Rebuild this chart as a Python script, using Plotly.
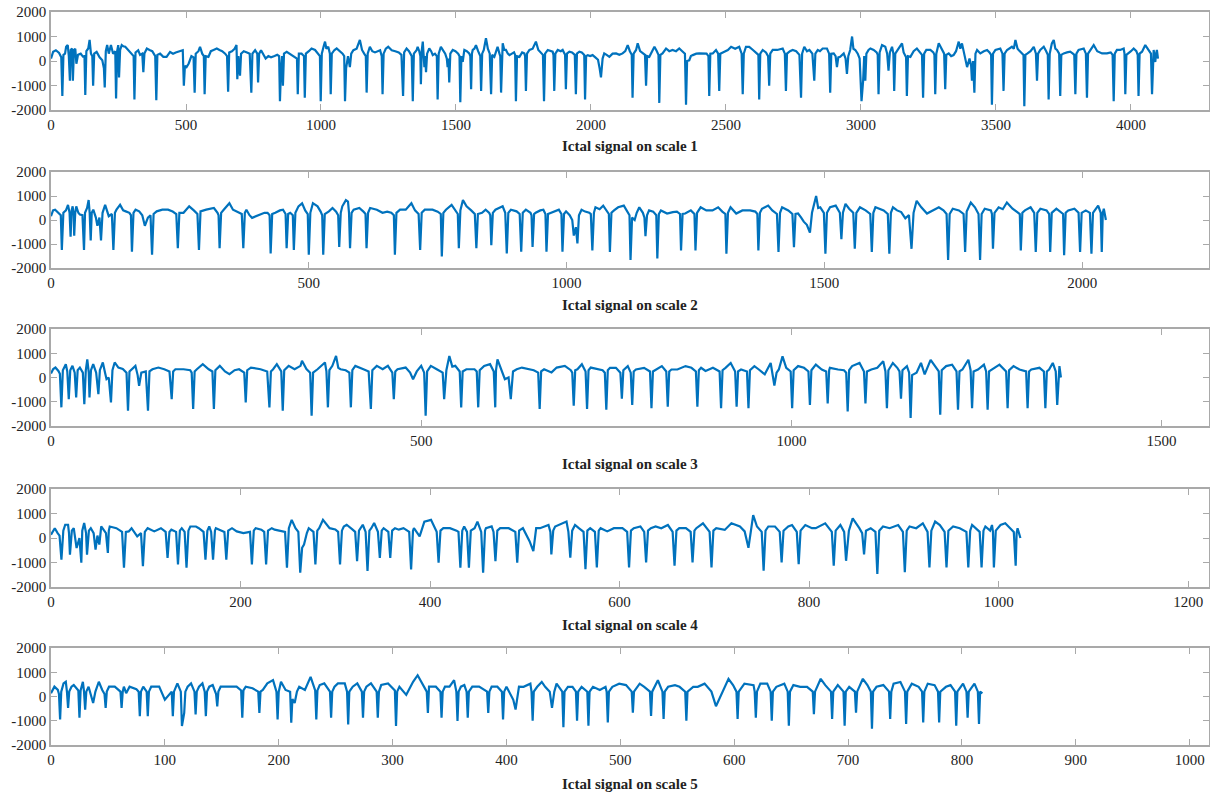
import plotly.graph_objects as go

# ---------------- data: (sample index, amplitude) turning points ----------------
scale1 = [(0,100),(8,380),(18,440),(30,330),(38,150),(42,-1430),(46,250),(52,300),(56,580),(62,650),(66,200),(70,-800),(73,450),(78,510),(81,-800),(85,450),(90,500),(94,-110),(100,250),(110,300),(118,180),(124,200),(127,-1390),(131,400),(138,510),(143,860),(148,300),(153,200),(156,-1010),(160,300),(169,370),(180,150),(190,30),(196,-300),(199,-1080),(203,400),(208,650),(214,300),(222,650),(230,300),(238,400),(241,-1530),(245,400),(249,650),(252,-670),(256,450),(262,650),(268,600),(275,580),(285,450),(296,350),(306,200),(309,-1570),(313,350),(323,440),(330,250),(338,300),(342,-460),(346,300),(355,510),(365,450),(375,400),(386,200),(390,-1600),(394,250),(404,300),(416,170),(428,170),(441,370),(452,300),(462,350),(476,400),(488,440),(492,-1010),(496,-200),(502,-250),(510,-100),(520,200),(528,150),(532,-1290),(536,300),(546,400),(552,580),(560,300),(566,200),(569,-1360),(573,200),(583,170),(592,400),(602,450),(614,510),(624,450),(634,400),(645,300),(652,200),(656,-1250),(660,350),(670,400),(680,500),(687,650),(690,-740),(694,200),(700,-600),(704,300),(714,400),(726,350),(736,300),(742,-1290),(746,300),(756,440),(764,300),(767,-880),(771,300),(778,440),(786,300),(795,100),(805,200),(815,150),(828,200),(838,250),(845,200),(848,-1640),(852,-300),(856,200),(859,-1010),(863,300),(873,370),(884,300),(896,200),(904,170),(911,100),(914,-1360),(918,300),(928,300),(937,200),(940,-1500),(944,300),(955,400),(965,510),(978,450),(990,300),(996,200),(999,-1640),(1003,300),(1010,600),(1015,790),(1020,500),(1027,580),(1033,300),(1036,-1360),(1040,300),(1050,450),(1058,510),(1070,400),(1080,300),(1086,200),(1089,-1640),(1093,-300),(1100,200),(1107,-250),(1112,300),(1120,440),(1132,500),(1144,860),(1152,450),(1160,300),(1166,200),(1169,-1290),(1173,300),(1181,580),(1190,400),(1200,350),(1210,400),(1219,440),(1225,200),(1228,-1360),(1232,300),(1240,500),(1249,580),(1262,440),(1275,400),(1288,350),(1298,250),(1304,-1430),(1308,350),(1317,510),(1326,400),(1336,200),(1340,-1640),(1344,300),(1354,440),
          (1358,580),(1364,400),(1368,200),(1370,-950),(1373,400),(1377,790),(1380,300),(1383,-250),(1386,200),(1389,-460),(1393,300),(1401,510),(1408,400),(1414,240),(1422,300),(1429,200),(1432,-1570),(1436,300),(1444,580),(1451,450),(1460,300),(1466,100),(1469,-250),(1472,100),(1475,-880),(1479,300),(1488,450),(1498,400),(1508,300),(1513,200),(1516,-1680),(1520,200),(1525,-40),(1529,300),(1531,450),(1540,400),(1549,310),(1553,200),(1556,-1150),(1559,300),(1562,450),(1568,500),(1574,650),(1582,400),(1590,200),(1593,-1220),(1597,300),(1603,450),(1611,930),(1618,500),(1625,300),(1630,-1360),(1634,250),(1642,170),(1648,400),(1654,580),(1661,300),(1664,200),(1667,-1290),(1670,400),(1673,720),(1679,450),(1685,450),(1692,300),(1698,240),(1707,300),(1715,350),(1719,250),(1722,-1640),(1726,200),(1735,170),(1745,350),(1753,310),(1756,200),(1759,-1220),(1763,300),(1772,450),(1784,500),(1796,790),(1805,450),(1815,310),(1822,250),(1826,-1640),(1830,300),(1840,450),(1850,400),(1858,380),(1861,250),(1864,-1220),(1868,300),(1877,450),(1888,400),(1895,450),(1904,250),(1907,-1150),(1911,300),(1920,380),(1930,350),(1940,250),(1944,-1360),(1948,300),(1957,380),(1966,350),(1975,250),(1978,-1570),(1982,200),(1988,240),(1997,200),(2006,240),(2016,150),(2026,50),(2032,-300),(2037,-670),(2043,100),(2049,310),(2058,250),(2068,170),(2080,300),(2093,310),(2105,250),(2117,310),(2127,400),(2136,650),(2144,400),(2151,250),(2154,-1500),(2158,300),(2167,450),(2173,720),(2182,400),(2191,310),(2200,250),(2204,-1010),(2208,200),(2216,170),(2225,400),(2235,580),(2244,400),(2250,250),(2253,-1710),(2257,250),(2265,310),(2278,510),(2290,400),(2302,450),(2315,400),(2327,510),(2338,400),(2348,300),(2352,-1780),(2356,0),(2364,30),(2370,200),(2377,240),(2390,300),(2401,310),(2415,300),(2428,300),(2435,200),(2438,-1430),(2442,300),(2451,310),(2463,450),(2471,300),(2475,-1220),(2479,300),(2494,380),(2507,450),(2519,580),(2534,500),(2549,580),(2558,300),(2562,-1360),(2566,300),(2574,580),(2586,580),(2600,450),(2612,350),(2620,250),(2623,-1570),(2627,300),(2636,450),(2648,350),(2656,200),(2660,-1010),(2664,300),(2673,450),(2690,450),(2710,510),(2718,300),(2722,-1220),(2726,300),(2737,400),(2747,450),(2760,400),(2772,250),(2778,-1500),(2782,300),(2790,580),(2800,400),(2809,450),(2820,300),(2827,-800),(2831,300),(2840,450),(2848,400),(2858,510),
          (2874,510),(2882,300),(2886,-1290),(2890,300),(2899,310),(2906,200),(2911,-250),(2916,150),(2923,170),(2930,250),(2936,310),(2943,100),(2948,-530),(2953,200),(2960,450),(2967,1000),(2972,500),(2979,450),(2988,300),(2995,100),(2998,-950),(3002,-1640),(3008,-800),(3012,200),(3016,-800),(3020,300),(3028,450),(3035,510),(3047,450),(3058,350),(3062,250),(3065,-1360),(3069,350),(3078,650),(3090,580),(3097,300),(3102,-390),(3107,350),(3115,580),(3120,300),(3123,-1220),(3127,300),(3136,450),(3152,720),(3158,350),(3164,240),(3167,150),(3170,-1430),(3174,200),(3183,170),(3195,400),(3207,510),(3218,350),(3226,250),(3230,-1500),(3234,300),(3242,450),(3257,450),(3268,350),(3272,250),(3275,-1360),(3279,300),(3288,720),(3300,450),(3308,300),(3312,-1150),(3316,250),(3325,310),(3334,200),(3343,240),(3352,400),(3362,790),(3368,500),(3374,720),(3382,300),(3393,-250),(3402,100),(3408,-200),(3411,-800),(3415,0),(3420,-1290),(3424,300),(3430,450),(3442,310),(3455,400),(3467,450),(3476,350),(3482,250),(3485,-1780),(3489,300),(3498,450),(3516,510),(3524,300),(3528,-1220),(3532,300),(3541,450),(3559,580),(3566,500),(3572,860),(3580,500),(3584,450),(3594,350),(3602,250),(3605,-1850),(3609,250),(3617,310),(3628,400),(3640,580),(3648,300),(3652,-800),(3656,300),(3664,450),(3677,580),(3686,400),(3692,250),(3695,-1570),(3699,300),(3707,720),(3714,860),(3720,500),(3726,450),(3734,300),(3738,-1430),(3742,250),(3751,310),(3763,350),(3775,380),(3785,300),(3790,250),(3794,-1360),(3798,300),(3806,450),(3825,510),(3833,300),(3837,-1500),(3841,300),(3849,450),(3862,650),(3875,400),(3893,310),(3911,310),(3925,350),(3932,250),(3936,-1640),(3940,300),(3948,450),(3960,450),(3973,510),(3976,300),(3979,-1360),(3983,250),(3991,310),(4000,400),(4010,510),(4020,400),(4025,250),(4028,-1430),(4032,300),(4041,380),(4053,650),(4065,450),(4074,300),(4078,-1360),(4081,300),(4084,450),(4087,200),(4090,-40),(4093,300),(4096,450),(4100,100)]

scale2 = [(0,160),(4,400),(8,430),(14,300),(19,200),(21,-1250),(24,300),(29,400),(33,630),(36,300),(38,-700),(40,400),(42,570),(44,200),(45,-650),(47,300),(49,570),(53,300),(56,230),(61,200),(64,-1250),(66,300),(70,500),(73,830),(75,300),(77,-850),(79,300),(82,430),(87,100),(90,-240),(94,100),(97,-850),(100,300),(105,630),(109,300),(112,160),(118,250),(121,-1250),(124,300),(127,430),(134,630),(140,400),(145,360),(152,300),(155,200),(157,-1320),(160,300),(164,430),(171,360),(177,200),(182,-240),(188,100),(193,200),(196,-1450),(199,250),(205,360),(216,430),(227,430),(236,350),(243,250),(246,-1180),(249,300),(257,300),(268,570),(277,400),(284,250),(287,-1250),(290,360),(301,430),(316,500),(323,300),(325,200),(327,-1180),(330,300),(335,430),(346,700),(353,430),(362,350),(370,250),(373,-1180),(376,300),(379,430),(385,200),(390,90),(398,150),(405,230),(414,300),(420,300),(424,200),(426,-1390),(429,250),(435,300),(444,400),(450,430),(455,250),(457,-1180),(460,250),(464,300),(469,200),(471,-1250),(474,300),(480,570),(487,700),(493,400),(498,250),(500,-1450),(503,300),(508,700),(517,570),(523,350),(526,200),(528,-1450),(531,250),(539,360),(546,500),(553,350),(557,200),(559,-1120),(562,300),(565,570),(572,830),(576,770),(578,300),(580,-1180),(583,300),(587,430),(598,500),(606,350),(610,250),(612,-1180),(615,300),(619,500),(632,430),(643,300),(652,350),(660,300),(665,200),(667,-1450),(670,300),(677,430),(688,430),(699,700),(706,400),(713,250),(716,-1250),(719,300),(725,430),(740,430),(750,350),(756,250),(758,-1520),(761,300),(766,430),(777,630),(785,350),(789,250),(791,-1180),(794,400),(799,830),(806,570),(815,400),(822,250),(825,-1180),(828,250),(836,300),(843,430),(850,300),(852,200),(854,-1050),(857,300),(862,430),(876,570),(881,300),(884,-1390),(887,300),(892,430),(903,360),(909,250),(912,-1320),(915,300),(921,430),(930,300),(932,200),(934,-1120),(937,250),(940,300),(949,400),(955,430),(959,250),(961,-1320),(964,250),(970,300),(985,430),(990,250),(992,-1320),(995,250),(999,360),(1006,200),(1011,0),(1014,-650),(1018,-300),(1021,-980),(1024,200),(1029,430),(1036,350),(1044,300),
          (1047,250),(1050,-1270),(1053,300),(1056,530),(1064,450),(1071,600),(1078,350),(1082,250),(1084,-1330),(1087,300),(1092,400),(1100,530),(1111,600),(1117,350),(1122,200),(1124,-1670),(1127,100),(1132,0),(1136,300),(1141,530),(1148,300),(1151,100),(1153,-670),(1156,200),(1160,400),(1168,350),(1174,200),(1176,-1600),(1179,250),(1183,400),(1195,270),(1206,330),(1214,350),(1220,250),(1222,-1270),(1225,250),(1230,270),(1241,400),(1248,250),(1250,-1270),(1253,300),(1260,530),(1271,400),(1283,400),(1294,530),(1302,350),(1308,250),(1310,-1400),(1313,300),(1318,530),(1329,270),(1341,400),(1356,400),(1366,350),(1370,250),(1372,-1270),(1375,300),(1379,470),(1391,600),(1399,400),(1408,250),(1411,-1330),(1414,300),(1418,530),(1430,400),(1438,250),(1441,-1130),(1444,250),(1449,270),(1455,100),(1460,-70),(1466,-200),(1472,-530),(1476,300),(1480,670),(1484,1000),(1488,500),(1492,530),(1499,300),(1502,-1400),(1505,300),(1511,530),(1522,600),(1530,300),(1533,-800),(1536,300),(1541,670),(1548,470),(1556,300),(1559,-1200),(1562,300),(1569,530),(1580,400),(1589,250),(1592,-1330),(1595,300),(1599,530),(1607,450),(1615,400),(1623,250),(1626,-1400),(1629,300),(1633,530),(1641,400),(1649,330),(1657,70),(1664,200),(1669,-1200),(1673,300),(1679,800),(1688,530),(1699,270),(1711,400),(1722,530),(1731,400),(1737,250),(1740,-1670),(1743,250),(1749,470),(1761,400),(1770,250),(1773,-1330),(1776,350),(1784,730),(1792,530),(1799,250),(1802,-1670),(1805,250),(1811,470),(1823,400),(1825,250),(1827,-1200),(1830,300),(1838,530),(1846,450),(1854,730),(1865,470),(1874,350),(1879,250),(1881,-1270),(1884,300),(1889,400),(1900,530),(1907,300),(1910,-1330),(1913,300),(1919,470),(1931,400),(1936,250),(1938,-1330),(1941,300),(1950,470),(1958,350),(1963,250),(1965,-1470),(1968,300),(1973,400),(1985,470),(1993,300),(1996,-1330),(1999,300),(2007,400),(2015,300),(2018,-1400),(2021,300),(2031,600),(2036,300),(2038,-1330),(2040,300),(2042,470),(2046,0)]

scale3 = [(0,160),(3,350),(6,410),(10,270),(12,150),(14,-1230),(16,300),(20,550),(22,250),(24,-890),(26,300),(29,480),(32,200),(34,-820),(36,300),(39,410),(43,200),(45,-1100),(47,300),(49,750),(51,200),(52,-820),(54,300),(57,550),(61,200),(64,-690),(66,300),(70,620),(73,200),(75,-70),(78,0),(81,-1030),(83,300),(86,620),(91,410),(97,350),(102,200),(104,-1370),(106,250),(109,340),(114,480),(117,100),(119,-340),(122,200),(128,250),(131,-1370),(133,250),(137,340),(145,410),(153,340),(160,250),(163,-890),(165,250),(168,340),(179,340),(188,300),(190,200),(192,-1300),(194,250),(197,340),(205,550),(213,340),(218,250),(220,-1300),(222,300),(228,480),(235,250),(241,140),(248,300),(254,340),(261,200),(263,-1030),(265,300),(270,410),(283,340),(292,250),(295,-1230),(297,250),(300,340),(305,550),(311,250),(313,-1370),(315,300),(321,480),(329,340),(337,480),(339,690),(345,350),(350,200),(352,-1580),(354,200),(360,340),(370,620),(372,250),(374,-1230),(376,300),(380,480),(385,890),(388,400),(391,340),(398,300),(403,200),(405,-1230),(407,300),(411,480),(422,340),(429,250),(432,-1300),(434,300),(440,480),(448,340),(455,480),(461,200),(463,-890),(465,250),(468,340),(479,410),(485,200),(489,-70),(494,250),(500,480),(504,200),(506,-1580),(508,250),(513,480),(521,340),(529,200),(531,-890),(534,300),(538,890),(542,450),(546,480),(552,250),(554,-1230),(556,250),(561,340),(572,340),(575,250),(577,-1230),(579,300),(585,480),(593,550),(598,250),(600,-1230),(601,300),(603,750),(608,340),(613,-70),(618,0),(621,-890),(624,250),(629,340),(636,410),(645,350),(652,300),(658,200),(660,-1300),(662,250),(666,340),(676,210),(683,410),(694,480),(702,300),(704,200),(706,-1160),(708,300),(711,340),(717,550),(722,250),(724,-1300),(726,300),(729,410),(737,340),
          (745,300),(748,200),(750,-1330),(752,300),(755,400),(763,400),(769,200),(771,-870),(773,300),(779,470),(783,200),(785,-1130),(787,250),(790,330),(801,400),(809,250),(811,-1270),(813,250),(817,330),(825,470),(831,250),(833,-1200),(835,250),(838,330),(846,330),(857,470),(865,400),(871,250),(873,-1200),(875,300),(878,400),(884,270),(894,400),(903,250),(905,-1270),(907,300),(911,400),(918,600),(924,250),(926,-1200),(928,250),(932,330),(940,250),(942,-1270),(944,300),(950,470),(956,330),(964,130),(972,600),(975,100),(977,-330),(980,200),(983,330),(988,870),(993,400),(999,250),(1001,-1270),(1003,300),(1009,470),(1017,400),(1023,250),(1025,-1130),(1027,300),(1033,530),(1041,330),(1047,250),(1049,-1070),(1051,300),(1052,400),(1063,330),(1071,300),(1074,200),(1076,-1400),(1078,300),(1082,470),(1092,600),(1098,250),(1100,-1070),(1102,250),(1108,330),(1116,400),(1124,670),(1127,250),(1129,-1270),(1131,300),(1137,600),(1143,400),(1146,250),(1148,-870),(1150,300),(1156,470),(1159,200),(1161,-1670),(1163,100),(1169,200),(1175,600),(1180,130),(1188,730),(1196,400),(1199,250),(1201,-1530),(1203,300),(1209,470),(1217,530),(1223,250),(1225,-1330),(1227,250),(1231,330),(1239,730),(1242,300),(1244,-1270),(1246,250),(1252,330),(1260,530),(1263,250),(1265,-1330),(1267,250),(1271,330),(1281,530),(1290,250),(1292,-1270),(1294,300),(1300,470),(1308,330),(1317,250),(1319,-1270),(1321,250),(1324,330),(1335,400),(1341,250),(1343,-1270),(1345,250),(1348,330),(1353,600),(1357,250),(1359,-1130),(1361,300),(1362,470),(1364,0)]

scale4 = [(0,130),(4,400),(7,200),(9,100),(11,-880),(13,300),(15,540),(18,540),(19,200),(20,-680),(22,300),(24,400),(27,-410),(30,0),(32,-1010),(33,300),(35,610),(37,200),(38,-680),(40,300),(42,400),(45,200),(47,-470),(49,100),(51,-270),(53,470),(58,200),(60,-610),(61,300),(62,470),(69,400),(75,250),(77,-1210),(79,250),(82,270),(85,400),(91,70),(95,200),(97,-1150),(99,250),(102,400),(109,270),(116,400),(121,250),(123,-810),(125,250),(127,340),(132,250),(134,-1080),(136,300),(138,400),(141,250),(143,-1210),(145,300),(147,470),(153,470),(156,400),(161,250),(163,-880),(165,300),(167,470),(169,250),(171,-880),(173,300),(174,400),(180,300),(183,250),(185,-880),(187,300),(191,400),(196,270),(203,200),(210,250),(212,-1080),(214,300),(216,400),(222,340),(225,250),(227,-1080),(229,300),(233,400),(236,340),(243,300),(247,250),(249,-1210),(251,400),(254,740),(258,400),(261,250),(263,-1420),(265,-400),(267,-270),(270,200),(272,400),(277,250),(279,-1080),(281,300),(283,400),(287,740),(294,400),(300,350),(303,250),(305,-1080),(307,300),(309,470),(312,540),(318,350),(321,250),(323,-950),(325,300),(329,540),(332,250),(334,-1350),(336,300),(338,400),(341,610),(345,250),(347,-810),(349,300),(351,400),(356,250),(358,-810),(360,300),(363,400),(367,340),(372,400),(378,250),(380,-1280),(382,300),(383,400),(389,70),(394,670),(401,740),(405,400),(407,250),(409,-1010),(411,300),(414,400),(421,400),(428,300),(430,250),(432,-1210),(434,300),(436,470),(439,250),(441,-1210),(443,300),(447,400),(450,670),(454,250),(456,-1420),(458,300),(459,400),(465,470),(467,250),(469,-950),(471,300),(474,400),(483,400),(490,250),(492,-1010),(494,300),(498,400),(505,-130),(509,-540),(512,400),
          (516,400),(525,530),(527,250),(528,-670),(530,300),(532,470),(539,600),(544,670),(546,250),(548,-800),(550,300),(553,530),(557,400),(562,250),(564,-1270),(566,300),(569,400),(574,250),(576,-1200),(578,300),(580,400),(587,270),(594,400),(603,400),(608,250),(610,-1200),(612,300),(615,400),(622,470),(626,250),(628,-1000),(630,300),(633,400),(638,470),(644,400),(651,530),(656,250),(658,-1130),(660,300),(663,400),(670,400),(675,250),(677,-1000),(679,300),(681,400),(688,600),(695,250),(697,-1200),(699,300),(702,400),(711,330),(718,600),(727,470),(732,270),(736,-400),(739,300),(741,930),(745,470),(750,250),(752,-1330),(754,300),(757,470),(764,470),(769,250),(771,-1000),(773,300),(778,470),(782,530),(787,250),(789,-1070),(791,300),(796,530),(803,400),(807,400),(817,600),(824,250),(826,-1130),(828,300),(833,530),(837,250),(839,-930),(842,300),(846,800),(853,400),(856,200),(858,-670),(860,300),(865,400),(870,250),(872,-1470),(874,300),(878,470),(885,400),(894,530),(899,250),(901,-1400),(903,300),(906,470),(913,400),(920,600),(925,250),(927,-1200),(929,300),(933,670),(938,530),(943,250),(945,-1200),(947,300),(952,470),(959,400),(966,250),(968,-1200),(970,300),(972,530),(980,250),(982,-1200),(984,300),(986,470),(991,300),(993,530),(994,250),(995,-1200),(997,300),(1002,530),(1007,600),(1016,250),(1018,-1130),(1019,200),(1020,400),(1023,0)]

scale5 = [(0,135),(3,405),(6,270),(7,100),(8,-945),(9,200),(11,540),(13,608),(14,200),(15,-473),(16,200),(18,405),(20,473),(24,250),(25,-878),(26,250),(28,608),(29,200),(30,-540),(31,200),(33,405),(35,100),(37,-270),(39,200),(42,608),(45,270),(47,100),(48,-473),(49,200),(51,405),(56,405),(61,200),(62,-473),(63,200),(64,405),(66,135),(69,405),(75,300),(77,200),(78,-810),(79,200),(81,405),(84,200),(85,-810),(86,200),(88,405),(92,405),(95,405),(100,-135),(106,200),(107,-810),(108,200),(111,540),(114,200),(115,-1215),(117,-675),(118,200),(120,405),(123,540),(126,200),(127,-743),(128,200),(130,405),(133,540),(135,200),(136,-810),(137,200),(139,405),(142,473),(145,100),(146,-405),(147,200),(149,405),(154,405),(158,405),(163,405),(167,250),(168,-878),(169,250),(171,405),(177,338),(182,200),(183,-675),(184,200),(186,270),(190,540),(195,675),(198,200),(199,-945),(200,200),(202,608),(206,270),(210,200),(211,-1080),(212,-100),(214,-270),(216,200),(218,405),(223,270),(228,810),(232,250),(233,-945),(234,250),(236,473),(240,540),(245,200),(246,-878),(247,200),(249,405),(252,540),(258,540),(260,200),(261,-1148),(262,200),(265,405),(269,540),(273,200),(274,-878),(275,200),(277,405),(281,540),(286,200),(287,-878),(288,200),(290,473),(296,540),(302,250),(303,-1215),(304,200),(306,405),(312,68),(318,608),(322,878),(328,405),(330,200),(331,-675),(332,405),(338,405),(342,200),(343,-878),(344,200),(346,405),(350,405),(354,675),(356,200),(357,-1013),(358,200),(360,405),(363,473),(365,200),(366,-878),(367,200),(370,405),(376,405),(383,200),(384,-675),(385,200),(387,405),(392,405),(396,200),(397,-945),(398,200),(400,405),(406,-135),(408,-540),(411,405),
          (415,400),(421,530),(422,200),(423,-1000),(424,200),(427,400),(431,600),(434,400),(438,200),(440,-470),(442,200),(444,530),(449,200),(450,-1270),(451,200),(454,400),(458,400),(461,200),(462,-1000),(463,200),(466,400),(471,200),(472,-1200),(473,200),(476,400),(482,270),(487,400),(488,200),(489,-1070),(490,200),(493,400),(499,530),(505,470),(510,200),(511,-670),(512,200),(517,530),(521,400),(526,200),(527,-800),(528,200),(533,670),(537,200),(538,-930),(539,200),(542,400),(548,470),(552,400),(557,200),(558,-1000),(559,200),(564,400),(568,400),(574,530),(580,200),(584,-400),(589,130),(595,730),(599,470),(602,200),(603,-930),(604,200),(609,530),(617,470),(618,200),(619,-870),(620,200),(623,530),(629,530),(632,200),(633,-1000),(634,200),(637,400),(644,530),(647,200),(648,-1200),(649,200),(652,470),(658,400),(664,400),(669,200),(670,-730),(671,200),(676,730),(680,470),(685,200),(686,-930),(687,200),(691,470),(696,200),(697,-1200),(698,200),(701,400),(706,200),(707,-670),(708,200),(713,730),(717,470),(720,200),(721,-1330),(722,200),(725,400),(731,470),(736,200),(737,-930),(738,200),(740,530),(746,600),(750,200),(751,-1130),(752,200),(756,530),(762,400),(765,200),(766,-1070),(767,200),(770,530),(776,470),(779,200),(780,-1070),(781,200),(786,400),(790,470),(794,200),(795,-1200),(796,200),(801,530),(804,200),(805,-870),(806,200),(811,530),(814,200),(815,-1130),(816,200),(818,130)]

x_ranges = [4289, 2246, 1564, 1222, 1017]
x_tick_steps = [500, 500, 500, 200, 100]
x_tick_last = [4000, 2000, 1500, 1200, 1000]
y_ticks = [-2000, -1000, 0, 1000, 2000]
titles = ["Ictal signal on scale 1", "Ictal signal on scale 2", "Ictal signal on scale 3",
          "Ictal signal on scale 4", "Ictal signal on scale 5"]

# ---------------- figure ----------------
W, H = 1210, 797
series = [scale1, scale2, scale3, scale4, scale5]
panel_px = [(12, 110), (172, 268), (329, 426), (489, 587), (648, 745)]  # top, bottom in px
title_px = [146, 305, 464, 625, 784]

AX = "#a9a9a9"
FONT = "Liberation Serif, Times New Roman, serif"

fig = go.Figure()
layout = dict(width=W, height=H, margin=dict(l=0, r=0, t=0, b=0, autoexpand=False),
              paper_bgcolor="white", plot_bgcolor="white", showlegend=False,
              font=dict(family=FONT, size=15, color="#222"))
annotations = []
for i, pts in enumerate(series):
    n = "" if i == 0 else str(i + 1)
    xs = [p[0] for p in pts]
    ys = [p[1] for p in pts]
    fig.add_trace(go.Scatter(x=xs, y=ys, mode="lines",
                             line=dict(color="#0072BD", width=2.2),
                             xaxis="x" + n, yaxis="y" + n, hoverinfo="skip"))
    top, bot = panel_px[i]
    tv = list(range(0, x_tick_last[i] + 1, x_tick_steps[i]))
    common = dict(showgrid=False, zeroline=False, automargin=False,
                  showline=True, linecolor=AX, linewidth=1.5,
                  mirror="ticks", ticks="inside", ticklen=6,
                  tickcolor=AX, tickwidth=1.2,
                  tickfont=dict(family=FONT, size=15, color="#222"))
    layout["xaxis" + n] = dict(domain=[51 / W, 1209 / W], anchor="y" + n,
                               range=[0, x_ranges[i]], tickvals=tv,
                               ticktext=[str(v) for v in tv], **common)
    layout["yaxis" + n] = dict(domain=[1 - bot / H, 1 - top / H], anchor="x" + n,
                               range=[-2000, 2000], tickvals=y_ticks,
                               ticktext=[str(v) for v in y_ticks], **common)
    annotations.append(dict(text="<b>" + titles[i] + "</b>", xref="paper", yref="paper",
                            x=630 / W, y=1 - title_px[i] / H, xanchor="center",
                            yanchor="middle", showarrow=False,
                            font=dict(family=FONT, size=15, color="#222")))
layout["annotations"] = annotations
fig.update_layout(**layout)
fig.write_html("out.html", config={"displayModeBar": False},
               post_script="document.body.style.margin='0';document.body.style.padding='0';"
                           "document.body.style.overflow='hidden';")
